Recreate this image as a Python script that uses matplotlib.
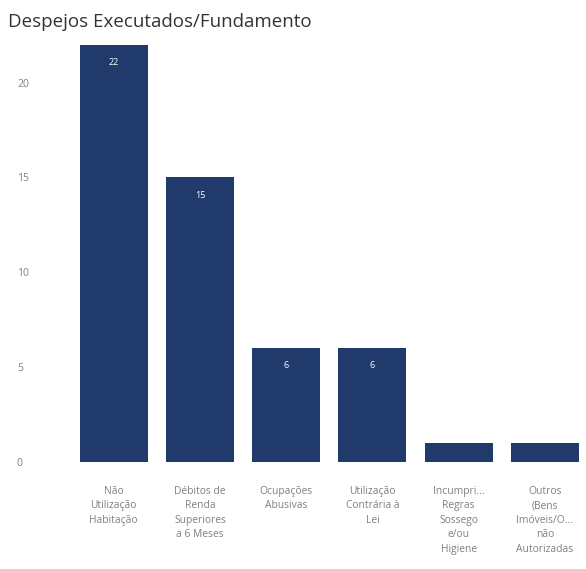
import matplotlib.pyplot as plt

categories = [
    "Não\nUtilização\nHabitação",
    "Débitos de\nRenda\nSuperiores\na 6 Meses",
    "Ocupações\nAbusivas",
    "Utilização\nContrária à\nLei",
    "Incumpri...\nRegras\nSossego\ne/ou\nHigiene",
    "Outros\n(Bens\nImóveis/O...\nnão\nAutorizadas",
]
values = [22, 15, 6, 6, 1, 1]
yticks = [0, 5, 10, 15, 20]

barColor = "#1f3a6b"
textGray = "#808080"

plt.rcParams["font.family"] = ["Open Sans", "DejaVu Sans"]

fig = plt.figure(figsize=(5.86, 5.69), dpi=100)
ax = fig.add_axes([0.119, 0.188, 0.874, 0.747])

x = list(range(len(values)))
bars = ax.bar(x, values, width=0.79, color=barColor)

# value labels only on the bars tall enough to hold them
for rect, v in zip(bars, values):
    if v >= 3:
        ax.text(rect.get_x() + rect.get_width() / 2, v - 0.7, str(v),
                ha="center", va="top", color="white", fontsize=6.5)

ax.set_xlim(-0.51, 5.43)
ax.set_ylim(0, 22.4)
ax.set_yticks(yticks)
ax.set_xticks(x)
ax.set_xticklabels(categories, fontsize=7.4, color=textGray, linespacing=1.45)
ax.tick_params(axis="y", labelsize=7.5, labelcolor=textGray, length=0, pad=38)
ax.tick_params(axis="x", length=0, pad=17)
for lbl in ax.get_yticklabels():
    lbl.set_horizontalalignment("left")
for s in ax.spines.values():
    s.set_visible(False)

fig.text(0.014, 0.962, "Despejos Executados/Fundamento", fontsize=13.5,
         color="#333333", ha="left", va="center")

fig.savefig("out.png", dpi=100)
